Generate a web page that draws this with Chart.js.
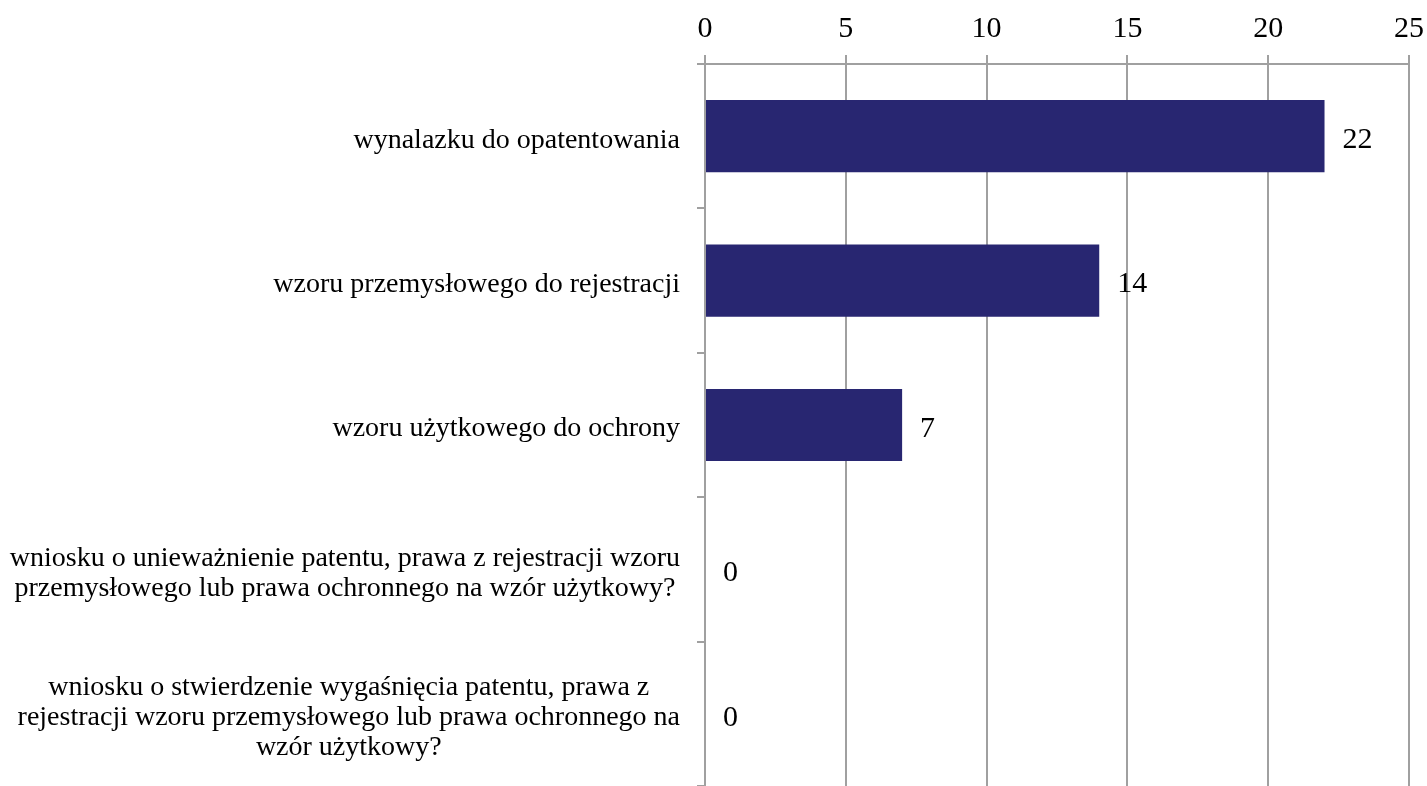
<!DOCTYPE html>
<html>
<head>
<meta charset="utf-8">
<script src="https://cdn.jsdelivr.net/npm/chart.js@4"></script>
<style>
  body { margin: 0; background: #fff; }
  #wrap { width: 1427px; height: 786px; }
</style>
</head>
<body>
<div id="wrap"><canvas id="chart" width="1427" height="786"></canvas></div>
<script>
// chart data
const categories = [
    'wynalazku do opatentowania',
    'wzoru przemysłowego do rejestracji',
    'wzoru użytkowego do ochrony',
    ['wniosku o unieważnienie patentu, prawa z rejestracji wzoru', 'przemysłowego lub prawa ochronnego na wzór użytkowy?'],
    ['wniosku o stwierdzenie wygaśnięcia patentu, prawa z', 'rejestracji wzoru przemysłowego lub prawa ochronnego na', 'wzór użytkowy?']
];
const values = [22, 14, 7, 0, 0];
const xTicks = [0, 5, 10, 15, 20, 25];

const gridColor = '#a0a0a0';
const serif = "'Liberation Serif', 'Times New Roman', serif";

// draws the value next to each bar
const valueLabels = {
    id: 'valueLabels',
    afterDatasetsDraw(chart) {
        const ctx = chart.ctx;
        const meta = chart.getDatasetMeta(0);
        ctx.save();
        ctx.font = '30px ' + serif;
        ctx.fillStyle = '#000';
        ctx.textAlign = 'left';
        ctx.textBaseline = 'middle';
        meta.data.forEach((bar, i) => {
            ctx.fillText(String(values[i]), bar.x + 18, bar.y + 4);
        });
        ctx.restore();
    }
};

// category labels: block right-aligned next to the axis, lines centred inside the block
const categoryLabels = {
    id: 'categoryLabels',
    afterDraw(chart) {
        const ctx = chart.ctx;
        const yScale = chart.scales.y;
        const right = yScale.right - 8 - 17;
        const lineH = 30;
        ctx.save();
        ctx.font = '28px ' + serif;
        ctx.fillStyle = '#000';
        ctx.textAlign = 'center';
        ctx.textBaseline = 'middle';
        categories.forEach((label, i) => {
            const lines = Array.isArray(label) ? label : [label];
            const widest = Math.max(...lines.map(l => ctx.measureText(l).width));
            const cx = right - widest / 2;
            const cy = yScale.getPixelForTick(i) + 4;
            lines.forEach((line, j) => {
                ctx.fillText(line, cx, cy + (j - (lines.length - 1) / 2) * lineH);
            });
        });
        ctx.restore();
    }
};

// keep the plot area where the reference has it
function noPadding(scale) {
    scale.paddingTop = 0;
    scale.paddingBottom = 0;
    scale.paddingLeft = 0;
    scale.paddingRight = 0;
}

new Chart(document.getElementById('chart').getContext('2d'), {
    type: 'bar',
    data: {
        labels: categories,
        datasets: [{
            data: values,
            backgroundColor: '#282671',
            borderWidth: 0,
            categoryPercentage: 1,
            barPercentage: 0.5
        }]
    },
    options: {
        indexAxis: 'y',
        responsive: false,
        animation: false,
        layout: { padding: { left: 0, right: 18, top: 0, bottom: 0 } },
        plugins: {
            legend: { display: false },
            tooltip: { enabled: false }
        },
        scales: {
            x: {
                position: 'top',
                min: 0,
                max: 25,
                afterFit(scale) { scale.height = 64; noPadding(scale); },
                afterBuildTicks(scale) { scale.ticks = xTicks.map(v => ({ value: v })); },
                grid: { color: gridColor, lineWidth: 2, tickLength: 9 },
                border: { color: gridColor, width: 2 },
                ticks: {
                    color: '#000',
                    padding: 8,
                    font: { family: serif, size: 30 }
                }
            },
            y: {
                afterFit(scale) { scale.width = 705; noPadding(scale); },
                grid: {
                    offset: true,
                    drawOnChartArea: false,
                    color: gridColor,
                    lineWidth: 2,
                    tickLength: 8
                },
                border: { color: gridColor, width: 2 },
                ticks: { display: false }
            }
        }
    },
    plugins: [valueLabels, categoryLabels]
});
</script>
</body>
</html>
